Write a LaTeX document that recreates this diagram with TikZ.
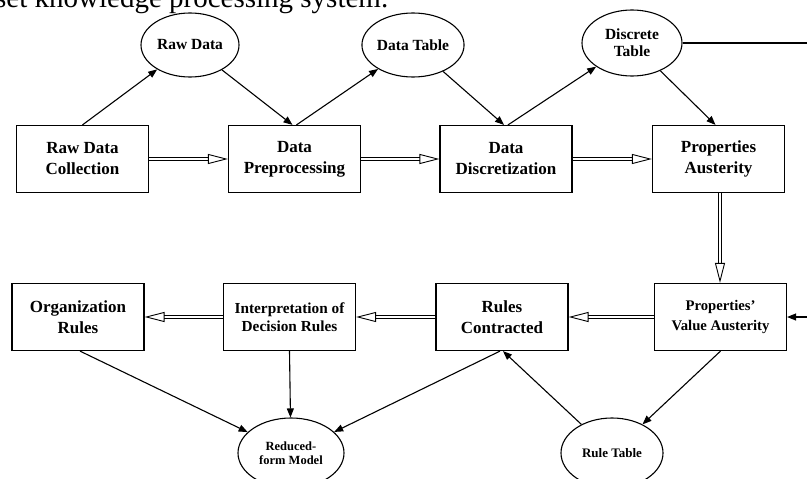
\documentclass[tikz,border=0pt]{standalone}
\usepackage{fontspec}
\setmainfont{Liberation Serif}
\usetikzlibrary{arrows.meta,shapes.geometric}
\tikzset{
  box/.style={draw, line width=1.2pt, minimum width=132pt, minimum height=67pt, inner sep=0pt, align=center, font=\fontsize{17}{21}\selectfont\bfseries},
  oval/.style={draw, ellipse, line width=1.1pt, inner sep=0pt, align=center, font=\fontsize{15.5}{17}\selectfont\bfseries},
  arr/.style={line width=1.1pt, -{Triangle[length=9pt,width=7pt]}},
  dbl/.style={double, double distance=2.8pt, line width=0.9pt, -{Triangle[open,length=20pt,width=10pt]}},
}
\begin{document}
\begin{tikzpicture}[x=1pt,y=-1pt]
\useasboundingbox (0,0) rectangle (807,479);
% cut caption line
\node[anchor=base west, inner sep=0pt, font=\fontsize{29}{32}\selectfont] (cap) at (-5,7) {set knowledge processing system.};
% row 1 boxes
\node[box] (rdc) at (82.5,159) {Raw Data\\Collection};
\node[box] (dp) at (294.5,159) {Data\\Preprocessing};
\node[box] (dd) at (506,159) {Data\\Discretization};
\node[box] (pa) at (718.5,159) {Properties\\Austerity};
% row 2 boxes
\node[box] (org) at (78,317) {Organization\\Rules};
\node[box, font=\fontsize{15.3}{18}\selectfont\bfseries] (interp) at (289.5,317) {Interpretation of\\Decision Rules};
\node[box] (rc) at (502,317) {Rules\\Contracted};
\node[box, font=\fontsize{14.7}{20}\selectfont\bfseries] (pva) at (720.5,317) {Properties'\\Value Austerity};
% ellipses
\node[oval, minimum width=98pt, minimum height=64pt] (rawd) at (190,45) {Raw Data};
\node[oval, minimum width=98pt, minimum height=64pt] (dtab) at (413,45) {Data Table};
\node[oval, minimum width=100pt, minimum height=66pt] (disc) at (632,43) {Discrete\\Table};
\node[oval, minimum width=106pt, minimum height=70pt, font=\fontsize{12.5}{13.5}\selectfont\bfseries] (red) at (291,453) {Reduced-\\form Model};
\node[oval, minimum width=102pt, minimum height=70pt, font=\fontsize{13}{15}\selectfont\bfseries] (rtab) at (612,453) {Rule Table};
% off-picture return path
\coordinate (c1) at (840,43);
\coordinate (c2) at (840,317);
% thin arrows, top
\draw[arr] (rdc.north) -- (rawd);
\draw[arr] (rawd) -- ([xshift=-2pt]dp.north);
\draw[arr] ([xshift=2pt]dp.north) -- (dtab);
\draw[arr] (dtab) -- ([xshift=-2pt]dd.north);
\draw[arr] ([xshift=2pt]dd.north) -- (disc);
\draw[arr] (disc) -- ([xshift=-3pt]pa.north);
\draw[arr] (disc.east) -- (c1) -- (c2) -- (pva.east);
% thin arrows, bottom
\draw[arr] ([xshift=2pt]org.south) -- (red);
\draw[arr] (interp.south) -- (red);
\draw[arr] ([xshift=-2pt]rc.south) -- (red);
\draw[arr] (pva.south) -- (rtab);
\draw[arr] (rtab) -- ([xshift=1pt]rc.south);
% double arrows
\draw[dbl] (rdc.east) -- (dp.west);
\draw[dbl] (dp.east) -- (dd.west);
\draw[dbl] (dd.east) -- (pa.west);
\draw[dbl] ([xshift=1.5pt]pa.south) -- ([xshift=-0.5pt]pva.north);
\draw[dbl] (pva.west) -- (rc.east);
\draw[dbl] (rc.west) -- (interp.east);
\draw[dbl] (interp.west) -- (org.east);
\end{tikzpicture}
\end{document}
